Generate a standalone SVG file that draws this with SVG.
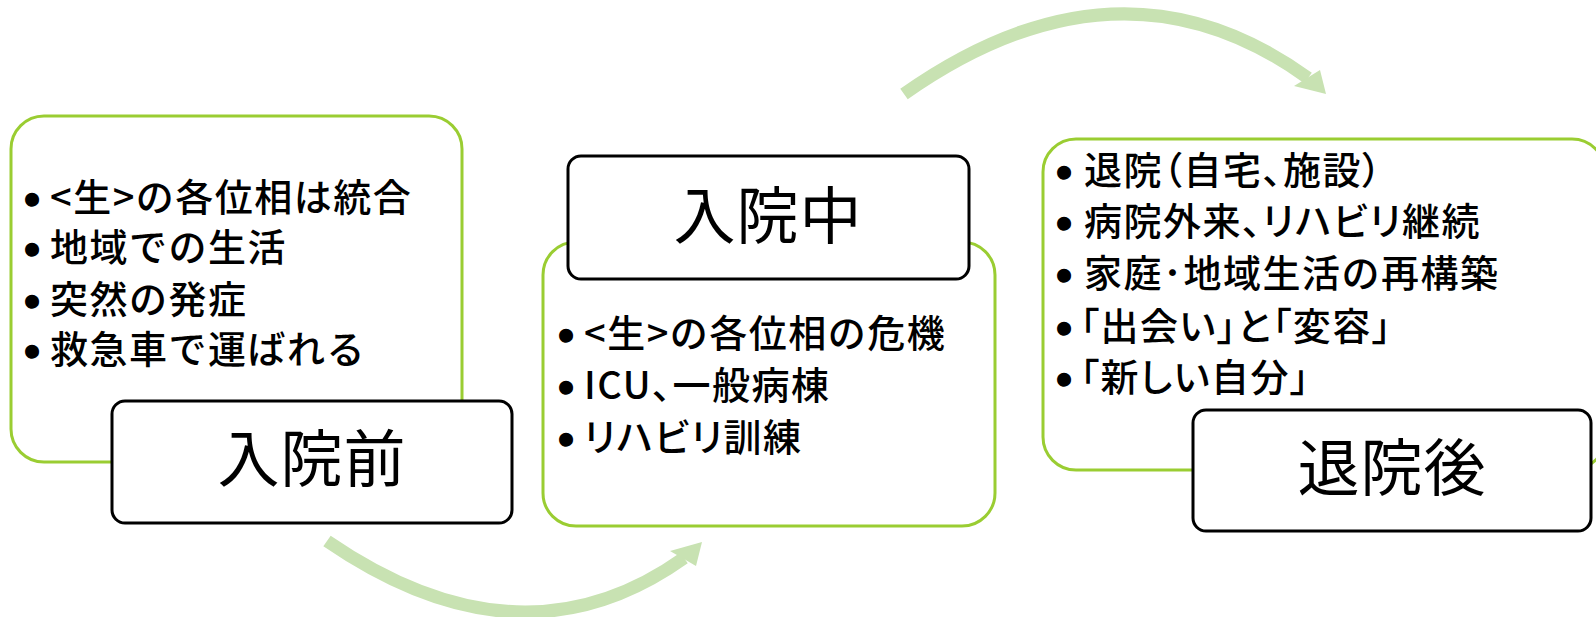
<svg xmlns="http://www.w3.org/2000/svg" width="1596" height="617" viewBox="0 0 1596 617">
<style>
.panel{fill:#fff;stroke:#9ACD32;stroke-width:3}
.title{fill:#fff;stroke:#000;stroke-width:3}
.t{font-family:"Noto Sans CJK JP","Noto Sans",sans-serif;font-size:38px;font-weight:500;letter-spacing:1.5px;fill:#000}
.b{font-family:"Liberation Sans",Arial,sans-serif;font-size:46px;letter-spacing:0;stroke:#000;stroke-width:1.5}
.h{font-family:"Noto Sans CJK JP","Noto Sans",sans-serif;font-size:62px;font-weight:400;letter-spacing:1px;fill:#000;text-anchor:middle}
.p{font-feature-settings:"palt"}
.arc{fill:none;stroke:#C8E2B2;stroke-width:13}
.head{fill:#C8E2B2}
</style>
<g id="connectors">
<path class="arc" d="M327,541 Q521,674 684,558"/>
<polygon class="head" points="670,551 696,566 702,542"/>
<path class="arc" d="M904,94 Q1120,-58 1308,78"/>
<polygon class="head" points="1294,86 1320,70 1326,94"/>
</g>
<g id="node-before">
<rect class="panel" x="11" y="116" width="451" height="346" rx="33"/>
<text class="t"><tspan class="b" x="24" y="215">•</tspan><tspan x="50" y="211">&lt;生&gt;の各位相は統合</tspan></text>
<text class="t"><tspan class="b" x="24" y="265">•</tspan><tspan x="50" y="261">地域での生活</tspan></text>
<text class="t"><tspan class="b" x="24" y="317">•</tspan><tspan x="50" y="313">突然の発症</tspan></text>
<text class="t"><tspan class="b" x="24" y="367">•</tspan><tspan x="50" y="363">救急車で運ばれる</tspan></text>
<rect class="title" x="112" y="401" width="400" height="122" rx="13"/>
<text class="h" x="312" y="482">入院前</text>
</g>
<g id="node-during">
<rect class="panel" x="543" y="242" width="452" height="284" rx="33"/>
<text class="t"><tspan class="b" x="558" y="351">•</tspan><tspan x="584" y="347">&lt;生&gt;の各位相の危機</tspan></text>
<text class="t p"><tspan class="b" x="558" y="403">•</tspan><tspan x="584" y="399">ICU、一般病棟</tspan></text>
<text class="t p"><tspan class="b" x="558" y="455">•</tspan><tspan x="584" y="451">リハビリ訓練</tspan></text>
<rect class="title" x="568" y="156" width="401" height="123" rx="13"/>
<text class="h" x="768" y="239">入院中</text>
</g>
<g id="node-after">
<rect class="panel" x="1043" y="139" width="562" height="331" rx="33"/>
<text class="t p"><tspan class="b" x="1056" y="188">•</tspan><tspan x="1084" y="184">退院（自宅、施設）</tspan></text>
<text class="t p"><tspan class="b" x="1056" y="239">•</tspan><tspan x="1084" y="235">病院外来、リハビリ継続</tspan></text>
<text class="t"><tspan class="b" x="1056" y="291">•</tspan><tspan x="1084" y="287">家庭･地域生活の再構築</tspan></text>
<text class="t p"><tspan class="b" x="1056" y="344">•</tspan><tspan x="1080" y="340">「出会い」と「変容」</tspan></text>
<text class="t p"><tspan class="b" x="1056" y="395">•</tspan><tspan x="1080" y="391">「新しい自分」</tspan></text>
<rect class="title" x="1193" y="410" width="398" height="121" rx="13"/>
<text class="h" x="1392" y="491">退院後</text>
</g>
</svg>
